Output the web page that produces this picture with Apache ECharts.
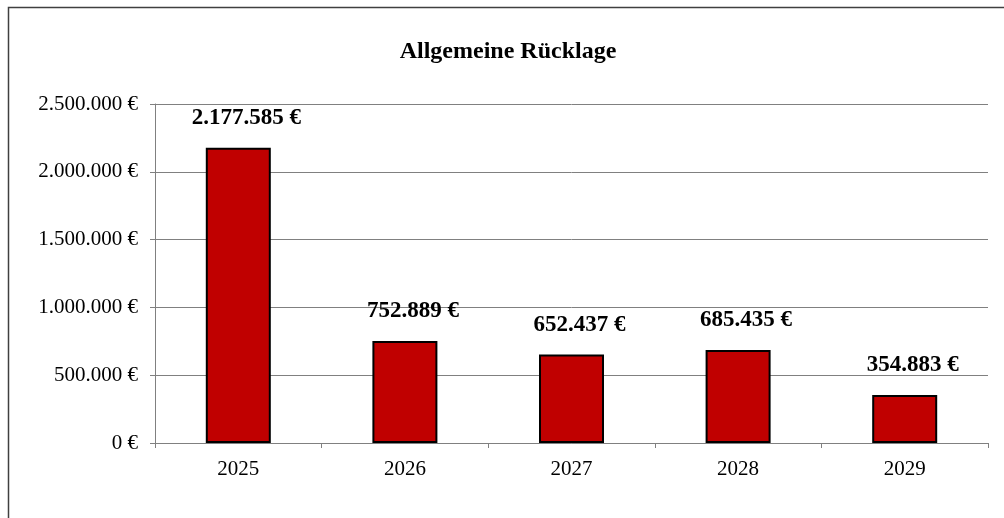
<!DOCTYPE html>
<html>
<head>
<meta charset="utf-8">
<script src="https://cdn.jsdelivr.net/npm/echarts@6/dist/echarts.min.js"></script>
<style>
  html, body { margin: 0; padding: 0; background: #fff; }
  #chart { width: 1004px; height: 518px; }
</style>
</head>
<body>
<div id="chart"></div>
<script>
var years = ['2025', '2026', '2027', '2028', '2029'];
var ruecklage = [2177585, 752889, 652437, 685435, 354883];
var yMax = 2500000;
var yStep = 500000;

// deutsche Tausenderpunkte
function euro(v) {
    return String(Math.round(v)).replace(/\B(?=(\d{3})+(?!\d))/g, '.') + ' €';
}

var chart = echarts.init(document.getElementById('chart'));

var option = {
    backgroundColor: '#fff',
    animation: false,
    textStyle: { fontFamily: 'Liberation Serif' },
    title: {
        text: 'Allgemeine Rücklage',
        left: 503,
        top: 35,
        textAlign: 'center',
        textStyle: { fontFamily: 'Liberation Serif', fontSize: 24, fontWeight: 'bold', color: '#000' }
    },
    graphic: [{
        type: 'rect',
        shape: { x: 8.5, y: 7.5, width: 1010, height: 530 },
        style: { fill: null, stroke: '#404040', lineWidth: 1.5 },
        silent: true
    }],
    grid: { left: 155, right: 16, top: 104, bottom: 75 },
    xAxis: {
        type: 'category',
        data: years,
        axisLine: { lineStyle: { color: '#808080', width: 1 } },
        axisTick: { show: true, length: 5, lineStyle: { color: '#808080' } },
        axisLabel: { fontFamily: 'Liberation Serif', fontSize: 21, color: '#000', margin: 16 }
    },
    yAxis: {
        type: 'value',
        min: 0,
        max: yMax,
        interval: yStep,
        axisLine: { show: true, lineStyle: { color: '#808080', width: 1 } },
        axisTick: { show: true, length: 5, lineStyle: { color: '#808080' } },
        splitLine: { lineStyle: { color: '#808080', width: 1 } },
        axisLabel: {
            fontFamily: 'Liberation Serif', fontSize: 21, color: '#000', margin: 17,
            formatter: euro
        }
    },
    series: [{
        type: 'bar',
        data: ruecklage,
        barWidth: 65,
        itemStyle: { color: '#C00000', borderColor: '#000', borderWidth: 2 },
        label: {
            show: true,
            position: 'top',
            distance: 18,
            offset: [8, 0],
            fontFamily: 'Liberation Serif',
            fontSize: 23,
            fontWeight: 'bold',
            color: '#000',
            formatter: function (p) { return euro(p.value); }
        }
    }]
};

chart.setOption(option);

window.onresize = chart.resize;
</script>
</body>
</html>
